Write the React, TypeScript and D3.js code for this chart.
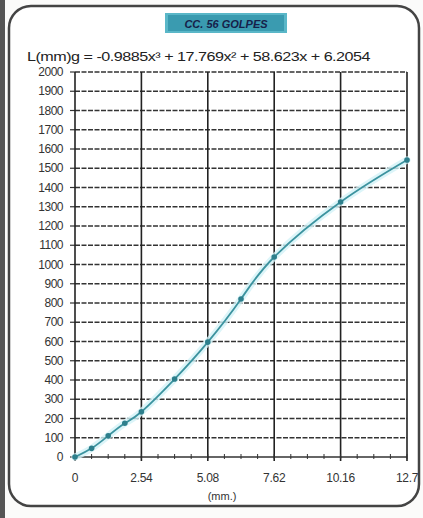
import React from "react";
import * as d3 from "d3";

const penetration = [0, 0.635, 1.27, 1.905, 2.54, 3.81, 5.08, 6.35, 7.62, 10.16, 12.7];
const load = [0, 45, 110, 175, 235, 405, 597, 821, 1039, 1325, 1543];
const xTicks = [0, 2.54, 5.08, 7.62, 10.16, 12.7];
const xTickLabels = ["0", "2.54", "5.08", "7.62", "10.16", "12.7"];
const yTicks = d3.range(0, 2001, 100);
const minorX = d3.range(0, 12.71, 0.635);
const title = "CC. 56 GOLPES";
const equation = "L(mm)g = -0.9885x³ + 17.769x² + 58.623x + 6.2054";
const xLabel = "(mm.)";

const W = 423;
const H = 518;

export default function App() {
  const x = d3.scaleLinear().domain([0, 12.7]).range([75, 407]);
  const y = d3.scaleLinear().domain([0, 2000]).range([457, 72]);
  const pts = penetration.map((p, i) => [p, load[i]] as [number, number]);
  const line = d3
    .line<[number, number]>()
    .x((d) => x(d[0]))
    .y((d) => y(d[1]))
    .curve(d3.curveNatural);
  const path = line(pts) || "";
  const font = "'Liberation Sans', Arial, sans-serif";
  return (
    <svg
      width={W}
      height={H}
      style={{ position: "absolute", left: 0, top: 0, background: "#fff" }}
      fontFamily={font}
    >
      <rect x={0} y={0} width={W} height={H} fill="#fbfbfa" />
      <rect x={0} y={0} width={5} height={H} fill="#555" />
      <rect x={9} y={6} width={410} height={500} rx={22} ry={22} fill="#fff" stroke="#444" strokeWidth={2.5} />
      {/* title */}
      <rect x={165} y={13} width={122} height={20} fill="#5ab7c8" />
      <rect x={168} y={15} width={116} height={16} fill="#3a9bb0" />
      <text x={226} y={28} textAnchor="middle" fontSize={11} fontStyle="italic" fill="#16214a" fontWeight="bold">
        {title}
      </text>
      {/* equation */}
      <text x={27} y={61} fontSize={13} fill="#222" letterSpacing={-0.4} textLength={343} lengthAdjust="spacingAndGlyphs">
        {equation}
      </text>
      {/* horizontal grid */}
      {yTicks.map((t) => (
        <g key={"h" + t}>
          <line x1={x(0)} x2={x(12.7)} y1={y(t)} y2={y(t)} stroke="#333" strokeWidth={1.4} strokeDasharray={t === 0 ? undefined : "5,1.5"} />
          <line x1={x(0) - 5} x2={x(0)} y1={y(t)} y2={y(t)} stroke="#333" strokeWidth={1.2} />
          <text x={63} y={y(t) + 4} textAnchor="end" fontSize={12} fill="#333" letterSpacing={-0.5}>
            {t}
          </text>
        </g>
      ))}
      {/* vertical grid */}
      {xTicks.map((t, i) => (
        <g key={"v" + t}>
          <line x1={x(t)} x2={x(t)} y1={y(2000)} y2={y(0) + 4} stroke="#222" strokeWidth={1.6} />
          <text x={x(t)} y={482} textAnchor="middle" fontSize={12} fill="#333" letterSpacing={-0.3}>
            {xTickLabels[i]}
          </text>
        </g>
      ))}
      {minorX.map((t) => (
        <line key={"m" + t} x1={x(t)} x2={x(t)} y1={y(0) - 3} y2={y(0) + 2} stroke="#333" strokeWidth={1} />
      ))}
      <text x={222} y={500} textAnchor="middle" fontSize={11} fill="#333">
        {xLabel}
      </text>
      {/* curve */}
      <path d={path} fill="none" stroke="#d3f3f8" strokeWidth={7} strokeLinecap="round" opacity={0.8} />
      <path d={path} fill="none" stroke="#3c939f" strokeWidth={1.8} />
      {pts.map((d, i) => (
        <circle key={"p" + i} cx={x(d[0])} cy={y(d[1])} r={2.8} fill="#2d7f8c" />
      ))}
    </svg>
  );
}
